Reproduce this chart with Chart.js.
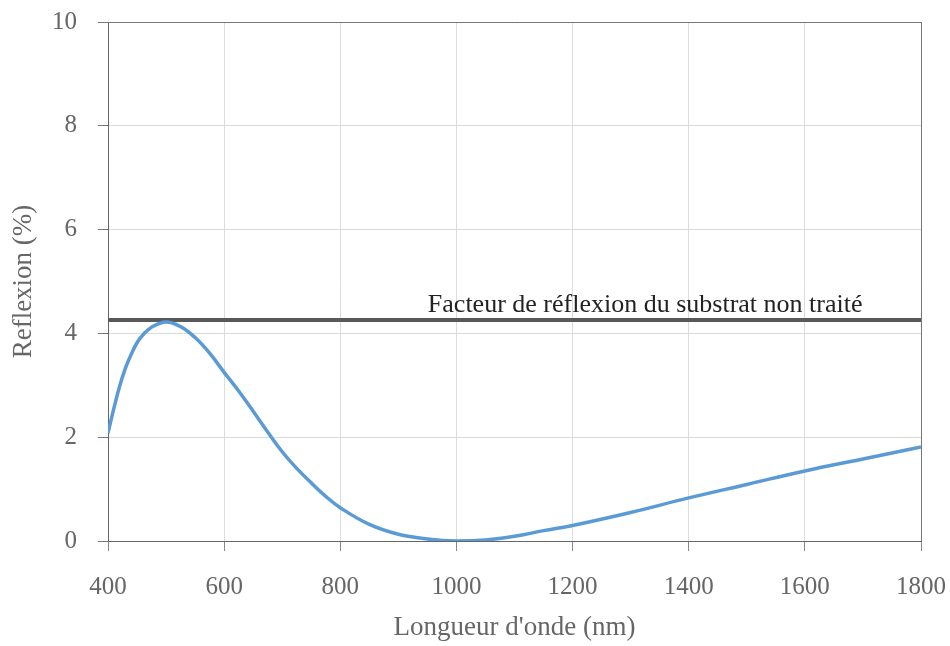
<!DOCTYPE html>
<html>
<head>
<meta charset="utf-8">
<script src="https://cdn.jsdelivr.net/npm/chart.js@4"></script>
<style>
  html, body { margin: 0; padding: 0; background: #fff; }
  #wrap { width: 950px; height: 646px; }
</style>
</head>
<body>
<div id="wrap"><canvas id="chart" width="950" height="646"></canvas></div>
<script>
// --- Data ---
const longueurs = [400, 410, 420, 430, 440, 450, 460, 475, 500, 525, 550, 575, 600, 625, 650, 675, 700, 725, 750, 775, 800,
  850, 900, 950, 1000, 1050, 1100, 1150, 1200, 1300, 1400, 1500, 1600, 1700, 1800];
const reflexion = [2.08, 2.55, 2.98, 3.33, 3.6, 3.82, 3.97, 4.12, 4.22, 4.13, 3.92, 3.62, 3.25, 2.89, 2.5, 2.1, 1.72, 1.4, 1.12, 0.86, 0.64,
  0.32, 0.13, 0.04, 0, 0.02, 0.09, 0.2, 0.3, 0.55, 0.83, 1.09, 1.35, 1.58, 1.81];
const substratX = [400, 1800];
const substratY = [4.26, 4.26];
const substratLabel = "Facteur de réflexion du substrat non traité";
const xTicks = [400, 600, 800, 1000, 1200, 1400, 1600, 1800];
const yTicks = [0, 2, 4, 6, 8, 10];

const FONT = "'Liberation Serif', 'DejaVu Serif', serif";

// --- Plugins: box border + label above substrate line ---
const cadre = {
  id: 'cadre',
  afterDraw(chart) {
    const { ctx, chartArea: a } = chart;
    ctx.save();
    ctx.strokeStyle = '#777';
    ctx.lineWidth = 1;
    ctx.beginPath();
    ctx.moveTo(a.left, a.top + 0.5);
    ctx.lineTo(a.right + 0.5, a.top + 0.5);
    ctx.lineTo(a.right + 0.5, a.bottom);
    ctx.stroke();
    ctx.restore();
  }
};

const etiquette = {
  id: 'etiquette',
  afterDatasetsDraw(chart) {
    const { ctx, scales } = chart;
    const x = scales.x.getPixelForValue(1325);
    const y = scales.y.getPixelForValue(substratY[0]) - 8;
    ctx.save();
    ctx.font = "26px " + FONT;
    ctx.fillStyle = '#222';
    ctx.textAlign = 'center';
    ctx.textBaseline = 'alphabetic';
    ctx.fillText(substratLabel, x, y);
    ctx.restore();
  }
};

// --- Chart ---
const ctx = document.getElementById('chart').getContext('2d');
const chart = new Chart(ctx, {
  type: 'line',
  data: {
    datasets: [
      {
        label: 'Reflexion',
        data: longueurs.map((l, i) => ({ x: l, y: reflexion[i] })),
        borderColor: '#5b9bd5',
        borderWidth: 3.5,
        pointRadius: 0,
        tension: 0.4,
        fill: false
      },
      {
        label: 'Substrat',
        data: substratX.map((l, i) => ({ x: l, y: substratY[i] })),
        borderColor: '#595959',
        borderWidth: 4,
        pointRadius: 0,
        fill: false
      }
    ]
  },
  options: {
    responsive: false,
    animation: false,
    layout: { padding: 0 },
    plugins: { legend: { display: false }, tooltip: { enabled: false } },
    scales: {
      x: {
        type: 'linear',
        min: 400, max: 1800,
        afterBuildTicks: s => { s.ticks = xTicks.map(v => ({ value: v })); },
        afterFit: s => { s.height = 105; s.paddingLeft = 0; s.paddingRight = 29; },
        border: { color: '#666', width: 1 },
        grid: { color: '#dcdcdc', tickColor: '#888', tickLength: 10 },
        ticks: { color: '#666', padding: 21, maxRotation: 0, callback: v => String(v), font: { family: FONT, size: 25 } },
        title: {
          display: true, text: "Longueur d'onde (nm)", color: '#666',
          font: { family: FONT, size: 27 }, padding: { top: 4, bottom: 2 }
        }
      },
      y: {
        min: 0, max: 10,
        afterBuildTicks: s => { s.ticks = yTicks.map(v => ({ value: v })); },
        afterFit: s => { s.width = 108; s.paddingTop = 22; s.paddingBottom = 0; },
        border: { color: '#666', width: 1 },
        grid: { color: '#dcdcdc', tickColor: '#777', tickLength: 10 },
        ticks: { color: '#666', padding: 21, callback: v => String(v), font: { family: FONT, size: 25 } },
        title: {
          display: true, text: 'Reflexion (%)', color: '#666',
          font: { family: FONT, size: 27 }, padding: { top: 8, bottom: 4 }
        }
      }
    }
  },
  plugins: [cadre, etiquette]
});
</script>
</body>
</html>
